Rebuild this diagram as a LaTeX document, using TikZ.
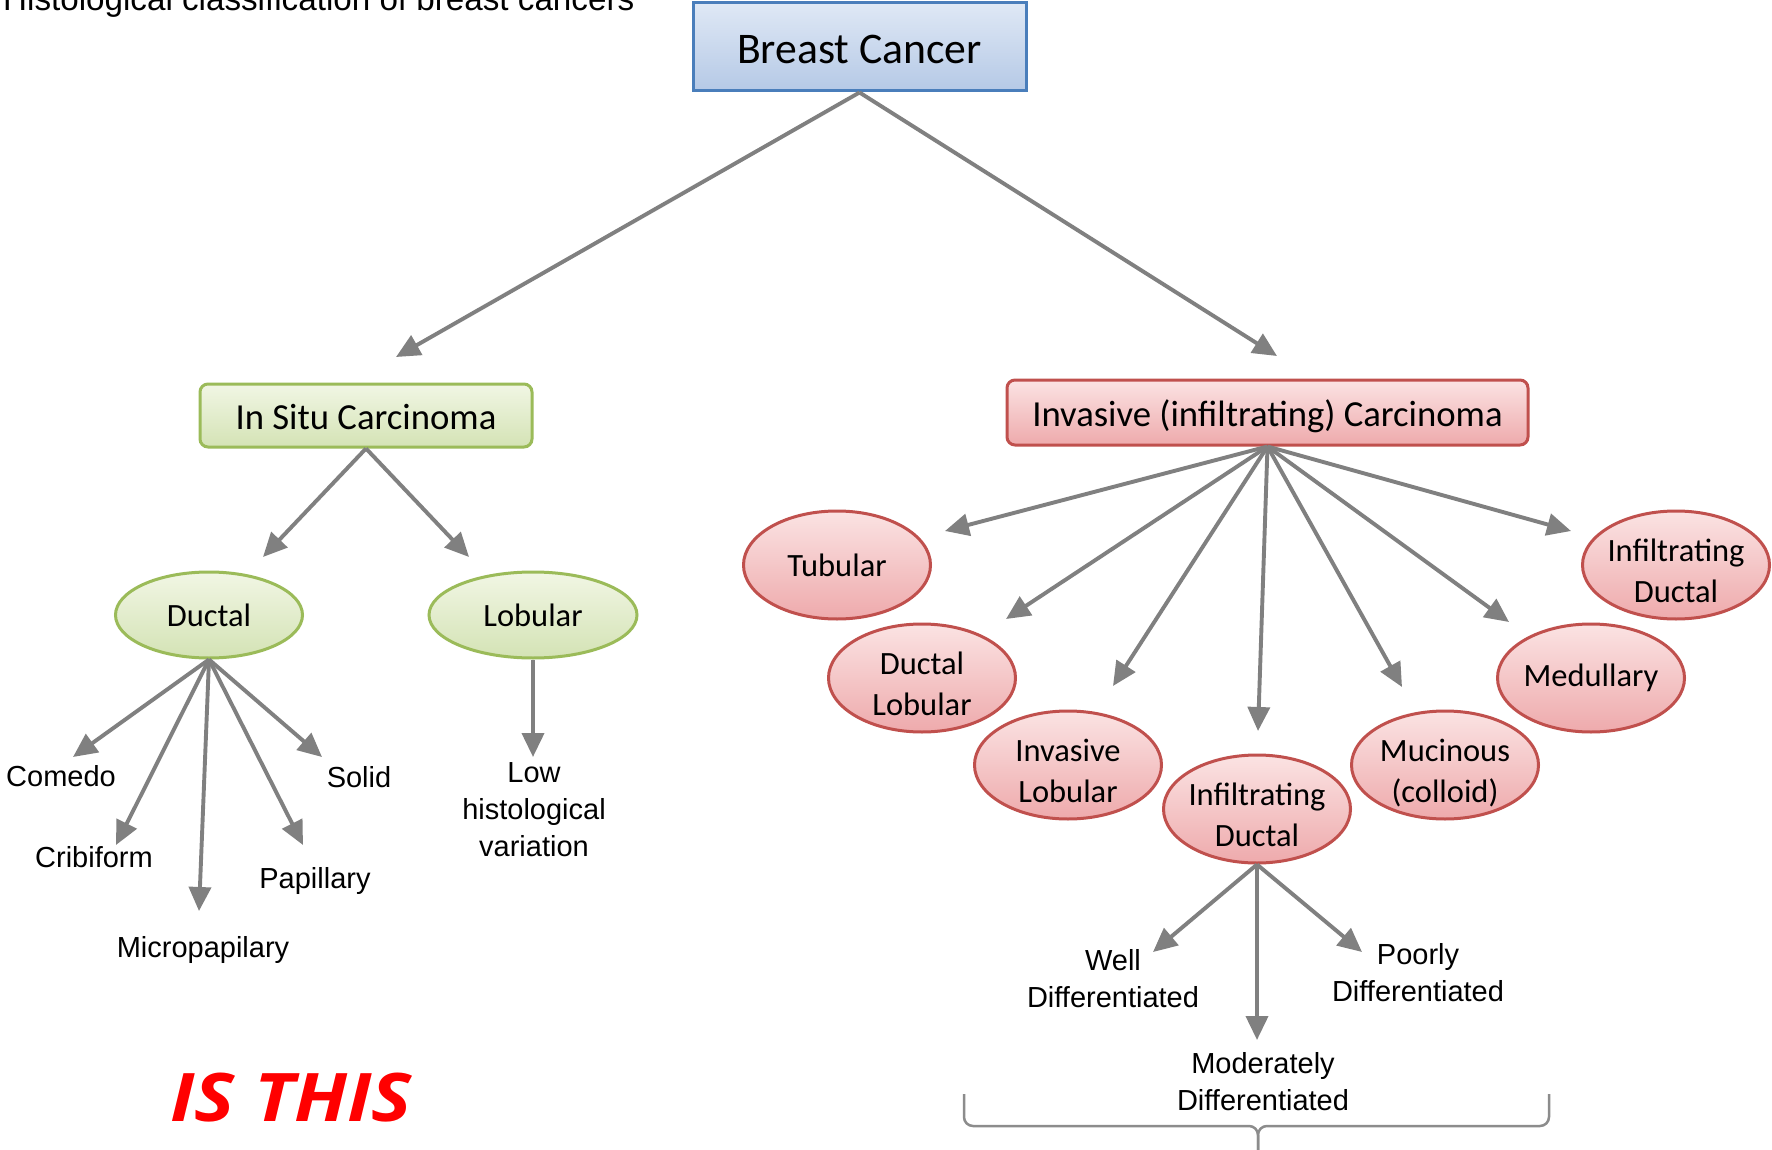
\documentclass[tikz,border=0pt]{standalone}
\usepackage{fontspec}
\setmainfont{Liberation Sans}
\newfontfamily\calfont{Carlito}
\newfontfamily\osfont{Open Sans}
\usetikzlibrary{arrows.meta,shapes.geometric}
\definecolor{arrgray}{HTML}{808080}
\definecolor{bracegray}{HTML}{8C8C8C}
\definecolor{btop}{HTML}{DFE8F5}
\definecolor{bbot}{HTML}{B5C9E6}
\definecolor{bbord}{HTML}{4A7EBB}
\definecolor{gtop}{HTML}{F1F6E4}
\definecolor{gbot}{HTML}{D4E3B5}
\definecolor{gbord}{HTML}{9BBB59}
\definecolor{rtop}{HTML}{FBE3E3}
\definecolor{rbot}{HTML}{EEAAAC}
\definecolor{rbord}{HTML}{C0504D}
\newcommand{\tl}{\rule{0pt}{44pt}}
\newcommand{\bl}{\rule[-10pt]{0pt}{0pt}}
\begin{document}
\begin{tikzpicture}[x=1pt,y=-1pt,
  arr/.style={draw=arrgray, line width=3.9pt, -{Triangle[length=24pt,width=22pt]}},
  box/.style={rectangle, inner sep=0pt, line width=3pt, text height=36.6pt, text depth=8pt,
    font=\calfont\fontsize{36.7}{44}\selectfont},
  bluebox/.style={box, draw=bbord, top color=btop, bottom color=bbot},
  greenbox/.style={box, rounded corners=8pt, draw=gbord, top color=gtop, bottom color=gbot},
  redbox/.style={box, rounded corners=8pt, draw=rbord, top color=rtop, bottom color=rbot},
  oval/.style={ellipse, inner sep=0pt, inner xsep=-10pt, inner ysep=-14pt, line width=3pt, align=center,
    font=\calfont\fontsize{32.5}{41}\selectfont},
  greenoval/.style={oval, draw=gbord, top color=gtop, bottom color=gbot, minimum height=86pt},
  redoval/.style={oval, draw=rbord, top color=rtop, bottom color=rbot, minimum width=187pt, minimum height=108pt},
  leaf/.style={inner sep=0pt, align=center, font=\fontsize{29}{37}\selectfont},
  brace/.style={draw=bracegray, line width=2.5pt, rounded corners=9pt}
]
\useasboundingbox[fill=white] (0,0) rectangle (1772,1150);

% title
\node[inner sep=0pt, anchor=base west, font=\fontsize{33.2}{40}\selectfont] (title) at (3,11)
  {Histological classification of breast cancers};

% main boxes
\node[bluebox, minimum width=333pt, minimum height=88pt, text height=43pt, text depth=9pt,
      font=\calfont\fontsize{43.7}{50}\selectfont] (bc) at (859.5,47) {Breast Cancer};
\node[greenbox, minimum width=332pt, minimum height=63pt] (insitu) at (366,415.5) {In Situ Carcinoma};
\node[redbox, minimum width=521pt, minimum height=65pt] (inv) at (1267.5,412.5) {Invasive (infiltrating) Carcinoma};

% in situ children
\node[greenoval, minimum width=187pt] (ductal) at (209,615) {Ductal};
\node[greenoval, minimum width=208pt] (lobular) at (533,615) {Lobular};

% invasive children
\node[redoval] (tub) at (837,565) {Tubular};
\node[redoval] (dl) at (922,678) {\tl Ductal\\Lobular\bl};
\node[redoval] (il) at (1068,765) {\tl Invasive\\Lobular\bl};
\node[redoval] (idc) at (1257,809) {\tl Infiltrating\\Ductal\bl};
\node[redoval] (muc) at (1445,765) {\tl Mucinous\\(colloid)\bl};
\node[redoval] (med) at (1591,678) {Medullary};
\node[redoval] (idr) at (1676,565) {\tl Infiltrating\\Ductal\bl};

% leaves
\node[leaf, anchor=base] (comedo) at (61,786) {Comedo};
\node[leaf, anchor=base] (crib) at (94,867) {Cribiform};
\node[leaf, anchor=base] (micro) at (203,957) {Micropapilary};
\node[leaf, anchor=base] (pap) at (315,888) {Papillary};
\node[leaf, anchor=base] (solid) at (359,787) {Solid};
\node[leaf] (low) at (534,810) {Low\\histological\\variation};
\node[leaf] (well) at (1113,979) {Well\\Differentiated};
\node[leaf] (poor) at (1418,973) {Poorly\\Differentiated};
\node[leaf] (mod) at (1263,1081.5) {Moderately\\Differentiated};

% connectors
\draw[arr] (bc.south) -- ([shift={(30,-58.5)}]insitu.center);
\draw[arr] (bc.south) -- ([shift={(9.5,-56.5)}]inv.center);
\draw[arr] (insitu.south) -- ([shift={(54,-58)}]ductal.center);
\draw[arr] (insitu.south) -- ([shift={(-64,-58)}]lobular.center);

\draw[arr] (ductal.south) -- ([shift={(12,-29)}]comedo.base);
\draw[arr] (ductal.south) -- ([shift={(22,-22)}]crib.base);
\draw[arr] (ductal.south) -- ([shift={(-4,-46)}]micro.base);
\draw[arr] (ductal.south) -- ([shift={(-12,-43)}]pap.base);
\draw[arr] (ductal.south) -- ([shift={(-37,-30)}]solid.base);
\draw[arr] (lobular.south) -- ([shift={(-1,-53)}]low.center);

\draw[arr] (inv.south) -- ([shift={(108,-34)}]tub.center);
\draw[arr] (inv.south) -- ([shift={(84,-59)}]dl.center);
\draw[arr] (inv.south) -- ([shift={(45,-79)}]il.center);
\draw[arr] (inv.south) -- ([shift={(1,-78)}]idc.center);
\draw[arr] (inv.south) -- ([shift={(-43,-78)}]muc.center);
\draw[arr] (inv.south) -- ([shift={(-82,-56)}]med.center);
\draw[arr] (inv.south) -- ([shift={(-105,-34)}]idr.center);

\draw[arr] (idc.south) -- ([shift={(40,-27)}]well.center);
\draw[arr] (idc.south) -- ([shift={(-6,-41.5)}]mod.center);
\draw[arr] (idc.south) -- ([shift={(-56,-21)}]poor.center);

% brace
\draw[brace] (964,1094) -- (964,1126) -- (1258,1126) -- (1258,1152);
\draw[brace] (1549,1094) -- (1549,1126) -- (1258,1126) -- (1258,1152);

% red caption
\node[inner sep=0pt, anchor=base west, text=red,
      font=\osfont\bfseries\itshape\fontsize{67}{80}\selectfont] (isthis) at (170,1121)
  {\scalebox{1.13}[1]{IS THIS}};
\end{tikzpicture}
\end{document}
